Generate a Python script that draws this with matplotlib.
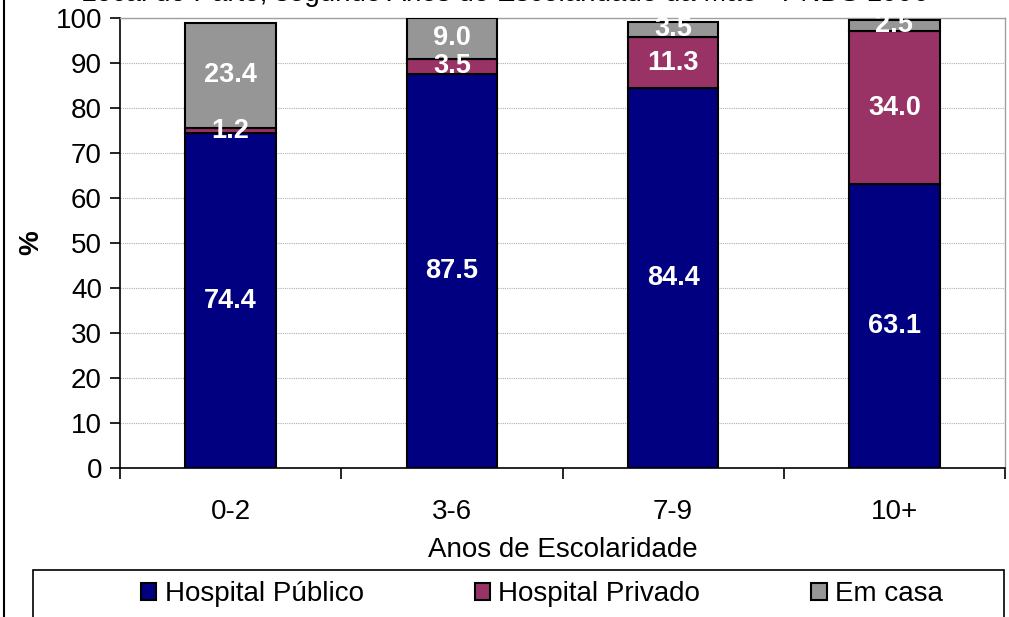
import numpy as np
import matplotlib
matplotlib.use("Agg")
import matplotlib.pyplot as plt
from matplotlib.lines import Line2D
from matplotlib.patches import Rectangle

plt.rcParams['font.family'] = ['Liberation Sans', 'DejaVu Sans']

# anos de escolaridade da mae
categorias = ["0-2", "3-6", "7-9", "10+"]
publico = [74.4, 87.5, 84.4, 63.1]
privado = [1.2, 3.5, 11.3, 34.0]
em_casa = [23.4, 9.0, 3.5, 2.5]
series = ["Hospital Público", "Hospital Privado", "Em casa"]
cores = ["#000080", "#993366", "#969696"]

W, H = 1009, 617
fig = plt.figure(figsize=(W/100, H/100), dpi=100)
ax = fig.add_axes([120/W, 1-468/H, 885/W, 450/H])

x = np.arange(len(categorias))
base = np.zeros(len(categorias))
for nome, vals, cor in zip(series, [publico, privado, em_casa], cores):
    vals = np.array(vals)
    ax.bar(x, vals, width=0.41, bottom=base, color=cor, edgecolor="black",
           linewidth=1.5, label=nome, zorder=3)
    for xi, b, v in zip(x, base, vals):
        ax.text(xi, b + v/2, f"{v:.1f}", ha="center", va="center",
                color="white", fontsize=19.5, fontweight="bold", zorder=4)
    base += vals

ax.set_xlim(-0.5, len(categorias) - 0.5)
ax.set_ylim(0, 100)
ax.set_yticks(np.arange(0, 101, 10))
ax.yaxis.grid(True, linestyle=(0, (1, 1)), color="#b0b0b0", linewidth=0.8, zorder=0)
ax.set_xticks(x)
ax.set_xticklabels(categorias, fontsize=20)
ax.set_xticks(np.arange(-0.5, len(categorias), 1), minor=True)
ax.tick_params(axis="x", which="major", length=0, pad=22)
ax.tick_params(axis="x", which="minor", length=8, width=1.2, direction="out")
ax.tick_params(axis="y", labelsize=20, length=7, width=1.2, direction="out", pad=6)
for s in ["top", "right"]:
    ax.spines[s].set_color("#a0a0a0")
    ax.spines[s].set_linewidth(1.0)
for s in ["left", "bottom"]:
    ax.spines[s].set_color("black")
    ax.spines[s].set_linewidth(1.2)

ax.set_xlabel("Anos de Escolaridade", fontsize=20, labelpad=9)
ax.set_ylabel("%", fontsize=20, fontweight="bold", labelpad=8)

# legenda: moldura propria, cortada no fundo como no original
fig.add_artist(Rectangle((33/W, -10/H), 971/W, (617 - 570 + 10)/H,
                         transform=fig.transFigure, facecolor="none",
                         edgecolor="black", linewidth=1.2))
handles, labels = ax.get_legend_handles_labels()
leg = fig.legend(handles, labels, loc="center left", ncol=3,
                 bbox_to_anchor=(141/W, 1 - 594/H),
                 fontsize=20, frameon=False,
                 handlelength=0.55, handleheight=0.55, handletextpad=0.3,
                 columnspacing=4.0, borderaxespad=0, borderpad=0)

# titulo cortado no topo da imagem original
fig.text(0.5, 1 - 1/H, "Local do Parto, segundo Anos de Escolaridade da Mãe - PNDS 1996",
         ha="center", va="baseline", fontsize=20, color="black")

fig.add_artist(Line2D([4/W, 4/W], [0, 1], color="black", linewidth=1.5,
                      transform=fig.transFigure))

fig.savefig("out.png", dpi=100)
